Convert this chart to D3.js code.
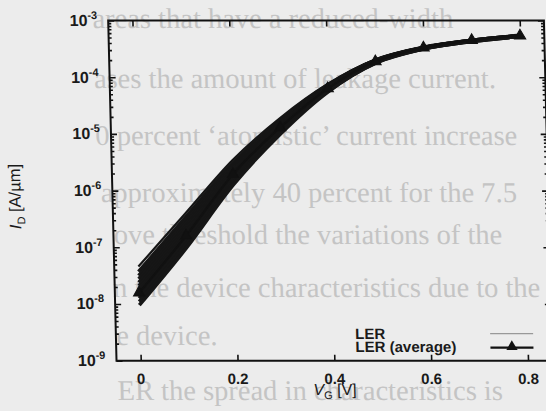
<!DOCTYPE html>
<html>
<head>
<meta charset="utf-8">
<script src="https://cdn.jsdelivr.net/npm/d3@7"></script>
<style>
body { margin:0; background:#ececec; }
svg { display:block; }
</style>
</head>
<body>
<svg id="chart"></svg>
<script>
// gate voltage sample points (V)
var voltages = [0, 0.1, 0.2, 0.3, 0.4, 0.5, 0.6, 0.7, 0.8];

// average drain current (A/um)
var averageCurrent = [1.58e-8, 1.6e-7, 1.95e-6, 1.3e-5, 6.3e-5, 1.9e-4, 3.3e-4, 4.5e-4, 5.4e-4];

// individual LER devices, log10 of drain current at each voltage
var lerLogCurrent = [
    [-7.34, -6.40, -5.46, -4.72, -4.12, -3.69, -3.47, -3.35, -3.26],
    [-7.43, -6.47, -5.52, -4.76, -4.14, -3.70, -3.47, -3.35, -3.26],
    [-7.50, -6.53, -5.57, -4.79, -4.15, -3.70, -3.48, -3.35, -3.27],
    [-7.56, -6.58, -5.61, -4.82, -4.16, -3.71, -3.48, -3.35, -3.27],
    [-7.62, -6.63, -5.65, -4.84, -4.17, -3.71, -3.48, -3.35, -3.27],
    [-7.68, -6.68, -5.69, -4.87, -4.18, -3.72, -3.48, -3.36, -3.27],
    [-7.74, -6.73, -5.72, -4.89, -4.19, -3.72, -3.49, -3.36, -3.27],
    [-7.79, -6.78, -5.75, -4.91, -4.20, -3.73, -3.49, -3.36, -3.28],
    [-7.84, -6.83, -5.79, -4.93, -4.22, -3.73, -3.49, -3.36, -3.28],
    [-7.90, -6.88, -5.82, -4.95, -4.23, -3.74, -3.50, -3.36, -3.28],
    [-7.96, -6.94, -5.86, -4.97, -4.25, -3.75, -3.50, -3.37, -3.28],
    [-8.02, -7.01, -5.90, -5.00, -4.26, -3.75, -3.50, -3.37, -3.28]
];

var xTicks = [0, 0.2, 0.4, 0.6, 0.8];
var yExponents = [-9, -8, -7, -6, -5, -4, -3];
var legendLabels = ["LER", "LER (average)"];

// faint text of the scanned page behind the figure
var pageLines = [
    "areas that have a reduced-width",
    "ases the amount of leakage current.",
    "0 percent \u2018atomistic\u2019 current increase",
    "approximately 40 percent for the 7.5",
    "ove threshold the variations of the",
    "n the device characteristics due to the",
    "e device.",
    "ER the spread in characteristics is"
];
var pageLineX = [92, 92, 92, 96, 108, 106, 108, 108];
var pageLineY = [28, 88, 145, 202, 244, 297, 345, 400];

var initGraph = function(target)
{
    var screen = {width:546, height:411};
    var margins = {top:20.5, left:107.7};
    var graph = {width:435.7, height:340.2};

    var svg = d3.select(target)
        .attr("width", screen.width)
        .attr("height", screen.height)

    svg.append("rect")
        .attr("width", screen.width)
        .attr("height", screen.height)
        .attr("fill", "#ececec")

    // the scan is slightly sheared
    var page = svg.append("g")
        .attr("transform", "skewX(1.4)")

    page.append("g")
        .selectAll("text")
        .data(pageLines)
        .enter()
        .append("text")
        .attr("x", function(d, i) { return pageLineX[i]; })
        .attr("y", function(d, i) { return pageLineY[i]; })
        .attr("font-family", "Liberation Serif")
        .attr("font-size", 28.5)
        .attr("fill", "#c4c4c4")
        .text(function(d) { return d; })

    var xScale = d3.scaleLinear()
        .domain([-0.05, 0.85])
        .range([0, graph.width])

    var yScale = d3.scaleLog()
        .domain([1e-9, 1e-3])
        .range([graph.height, 0])

    var g = page.append("g")
        .attr("transform", "translate(" + margins.left + "," + margins.top + ")")

    // LER curves
    var lerLine = d3.line()
        .x(function(d, i) { return xScale(voltages[i]); })
        .y(function(d) { return yScale(Math.pow(10, d)); })
        .curve(d3.curveMonotoneX)

    g.append("g")
        .selectAll("path")
        .data(lerLogCurrent)
        .enter()
        .append("path")
        .attr("d", lerLine)
        .attr("fill", "none")
        .attr("stroke", "#161616")
        .attr("stroke-width", function(d, i) { return i === 0 ? 2.2 : 3.6; })

    // average curve
    var avgLine = d3.line()
        .x(function(d, i) { return xScale(voltages[i]); })
        .y(function(d) { return yScale(d); })
        .curve(d3.curveMonotoneX)

    g.append("path")
        .attr("d", avgLine(averageCurrent))
        .attr("fill", "none")
        .attr("stroke", "#111")
        .attr("stroke-width", 2.2)

    var tri = d3.symbol().type(d3.symbolTriangle).size(55)

    g.append("g")
        .selectAll("path")
        .data(averageCurrent)
        .enter()
        .append("path")
        .attr("d", tri)
        .attr("transform", function(d, i)
        {
            return "translate(" + xScale(voltages[i]) + "," + yScale(d) + ")";
        })
        .attr("fill", "#111")
        .attr("stroke", "#111")
        .attr("stroke-width", 1)

    // axes (gnuplot style: ticks inside, mirrored)
    var yMinor = [];
    yExponents.forEach(function(e)
    {
        if (e < -3)
        {
            for (var m = 2; m <= 9; m++) { yMinor.push(m * Math.pow(10, e)); }
        }
    });
    var yMajor = yExponents.map(function(e) { return Math.pow(10, e); });

    g.append("g")
        .call(d3.axisBottom(xScale).tickValues(xTicks).tickSize(-6).tickFormat(""))
        .attr("transform", "translate(0," + graph.height + ")")
    g.append("g")
        .call(d3.axisTop(xScale).tickValues(xTicks).tickSize(-6).tickFormat(""))
    g.append("g")
        .call(d3.axisLeft(yScale).tickValues(yMajor).tickSize(-6).tickFormat(""))
    g.append("g")
        .call(d3.axisLeft(yScale).tickValues(yMinor).tickSize(-3).tickFormat(""))
    g.append("g")
        .attr("transform", "translate(" + graph.width + ",0)")
        .call(d3.axisRight(yScale).tickValues(yMajor).tickSize(-6).tickFormat(""))
    g.append("g")
        .attr("transform", "translate(" + graph.width + ",0)")
        .call(d3.axisRight(yScale).tickValues(yMinor).tickSize(-3).tickFormat(""))

    g.selectAll(".domain").remove()
    g.selectAll(".tick line")
        .attr("stroke", "#111")
        .attr("stroke-width", 1.6)

    g.append("rect")
        .attr("width", graph.width)
        .attr("height", graph.height)
        .attr("fill", "none")
        .attr("stroke", "#111")
        .attr("stroke-width", 2)

    // tick labels
    g.append("g")
        .selectAll("text")
        .data(xTicks)
        .enter()
        .append("text")
        .attr("x", function(d) { return xScale(d); })
        .attr("y", graph.height + 23)
        .attr("text-anchor", "middle")
        .attr("font-family", "Liberation Sans")
        .attr("font-weight", "bold")
        .attr("font-size", 15)
        .attr("fill", "#1a1a1a")
        .text(function(d) { return d === 0 ? "0" : d3.format(".1f")(d); })

    var yLab = g.append("g")
        .selectAll("text")
        .data(yExponents)
        .enter()
        .append("text")
        .attr("x", -11)
        .attr("y", function(d) { return yScale(Math.pow(10, d)) + 5.5; })
        .attr("text-anchor", "end")
        .attr("font-family", "Liberation Sans")
        .attr("font-weight", "bold")
        .attr("font-size", 16)
        .attr("fill", "#1a1a1a")
    yLab.append("tspan").text("10")
    yLab.append("tspan")
        .attr("dy", -7)
        .attr("font-size", 11)
        .text(function(d) { return d; })

    // axis titles
    var xt = g.append("text")
        .attr("x", graph.width / 2)
        .attr("y", graph.height + 34)
        .attr("text-anchor", "middle")
        .attr("font-family", "Liberation Sans")
        .attr("font-size", 16)
        .attr("fill", "#1a1a1a")
    xt.append("tspan").attr("font-style", "italic").text("V")
    xt.append("tspan").attr("font-size", 11).attr("dy", 4).text("G")
    xt.append("tspan").attr("dy", -4).text(" [V]")

    var yt = g.append("text")
        .attr("transform", "translate(" + (-92) + "," + (graph.height / 2 + 6) + ") rotate(-90)")
        .attr("text-anchor", "middle")
        .attr("font-family", "Liberation Sans")
        .attr("font-size", 16.5)
        .attr("fill", "#1a1a1a")
    yt.append("tspan").attr("font-style", "italic").text("I")
    yt.append("tspan").attr("font-size", 11).attr("dy", 4).text("D")
    yt.append("tspan").attr("dy", -4).text(" [A/\u00b5m]")

    // legend
    var legend = g.append("g")
        .attr("transform", "translate(" + (xScale(0.5) - 27) + "," + (graph.height - 22) + ")")

    legend.selectAll("text")
        .data(legendLabels)
        .enter()
        .append("text")
        .attr("x", 0)
        .attr("y", function(d, i) { return i * 13; })
        .attr("font-family", "Liberation Sans")
        .attr("font-weight", "bold")
        .attr("font-size", 15)
        .attr("fill", "#1a1a1a")
        .text(function(d) { return d; })

    legend.append("line")
        .attr("x1", 135).attr("x2", 178)
        .attr("y1", -5).attr("y2", -5)
        .attr("stroke", "#999")
        .attr("stroke-width", 1.2)
    legend.append("line")
        .attr("x1", 135).attr("x2", 178)
        .attr("y1", 9).attr("y2", 9)
        .attr("stroke", "#111")
        .attr("stroke-width", 2.2)
    legend.append("path")
        .attr("d", tri)
        .attr("transform", "translate(156.5,8)")
        .attr("fill", "#111")
}

initGraph("#chart");
</script>
</body>
</html>
